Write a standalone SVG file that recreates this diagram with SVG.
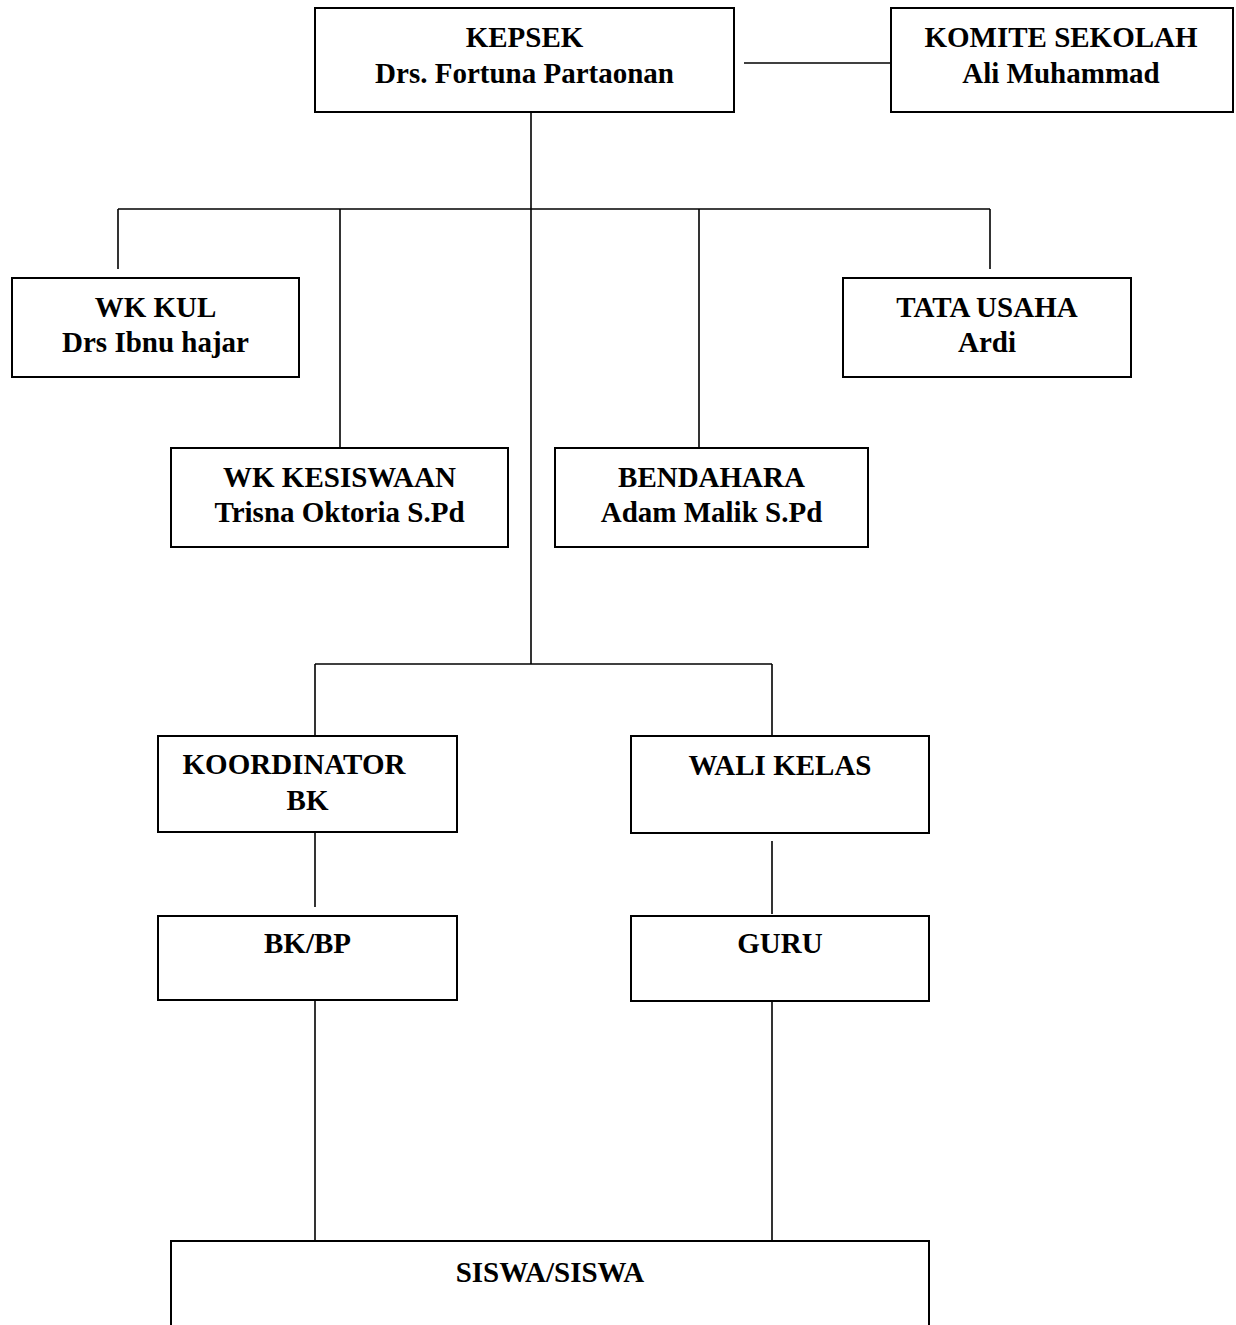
<svg xmlns="http://www.w3.org/2000/svg" width="1236" height="1325" viewBox="0 0 1236 1325">
<style>
.box{fill:#fff;stroke:#000;stroke-width:2}
.ln{stroke:#000;stroke-width:1.6;fill:none}
text{font-family:"Liberation Serif","Times New Roman",serif;font-weight:bold;font-size:29px;fill:#000;text-anchor:middle}
</style>
<rect width="1236" height="1325" fill="#fff"/>
<g id="connectors" class="ln">
<line x1="744" y1="63" x2="891" y2="63"/>
<line x1="531" y1="112" x2="531" y2="664"/>
<line x1="118" y1="209" x2="990" y2="209"/>
<line x1="118" y1="209" x2="118" y2="269"/>
<line x1="340" y1="209" x2="340" y2="448"/>
<line x1="699" y1="209" x2="699" y2="448"/>
<line x1="990" y1="209" x2="990" y2="269"/>
<line x1="315" y1="664" x2="772" y2="664"/>
<line x1="315" y1="664" x2="315" y2="736"/>
<line x1="772" y1="664" x2="772" y2="736"/>
<line x1="315" y1="832" x2="315" y2="907"/>
<line x1="772" y1="841" x2="772" y2="914"/>
<line x1="315" y1="1000" x2="315" y2="1241"/>
<line x1="772" y1="1000" x2="772" y2="1241"/>
</g>
<g id="kepsek"><rect class="box" x="315" y="8" width="419" height="104"/><text x="524.5" y="47">KEPSEK</text><text x="524.5" y="83">Drs. Fortuna Partaonan</text></g>
<g id="komite"><rect class="box" x="891" y="8" width="342" height="104"/><text x="1061" y="47">KOMITE SEKOLAH</text><text x="1061" y="83">Ali Muhammad</text></g>
<g id="wkkul"><rect class="box" x="12" y="278" width="287" height="99"/><text x="155.5" y="317">WK KUL</text><text x="155.5" y="352">Drs Ibnu hajar</text></g>
<g id="tatausaha"><rect class="box" x="843" y="278" width="288" height="99"/><text x="987" y="317">TATA USAHA</text><text x="987" y="352">Ardi</text></g>
<g id="wkkesiswaan"><rect class="box" x="171" y="448" width="337" height="99"/><text x="339.5" y="487">WK KESISWAAN</text><text x="339.5" y="522">Trisna Oktoria S.Pd</text></g>
<g id="bendahara"><rect class="box" x="555" y="448" width="313" height="99"/><text x="711.5" y="487">BENDAHARA</text><text x="711.5" y="522">Adam Malik S.Pd</text></g>
<g id="koordinator"><rect class="box" x="158" y="736" width="299" height="96"/><text x="294" y="774">KOORDINATOR</text><text x="307.5" y="810">BK</text></g>
<g id="walikelas"><rect class="box" x="631" y="736" width="298" height="97"/><text x="780" y="775">WALI KELAS</text></g>
<g id="bkbp"><rect class="box" x="158" y="916" width="299" height="84"/><text x="307.5" y="953">BK/BP</text></g>
<g id="guru"><rect class="box" x="631" y="916" width="298" height="85"/><text x="780" y="953">GURU</text></g>
<g id="siswa"><rect class="box" x="171" y="1241" width="758" height="110"/><text x="550" y="1282">SISWA/SISWA</text></g>
</svg>
